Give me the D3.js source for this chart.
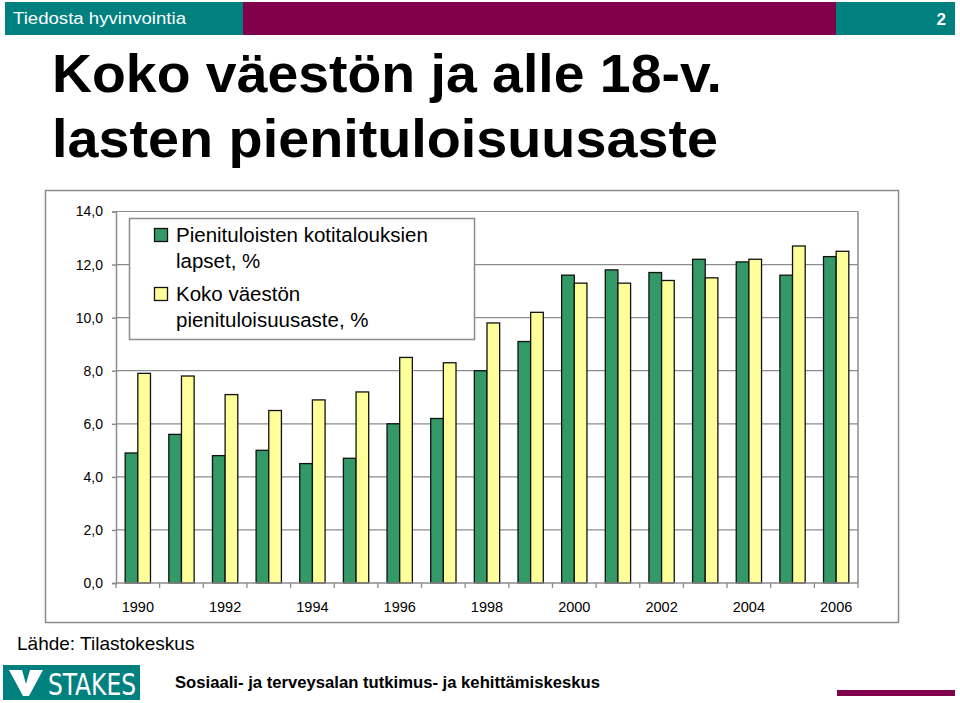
<!DOCTYPE html>
<html>
<head>
<meta charset="utf-8">
<script src="https://cdn.jsdelivr.net/npm/d3@7"></script>
<style>
  body { margin: 0; background: #fff; }
  svg { display: block; font-family: "Liberation Sans", Arial, sans-serif; }
</style>
</head>
<body>
<svg width="960" height="703"></svg>
<script>
const width = 960;
const height = 703;

// data
const years = [1990, 1991, 1992, 1993, 1994, 1995, 1996, 1997, 1998, 1999,
               2000, 2001, 2002, 2003, 2004, 2005, 2006];
const lapset = [4.9, 5.6, 4.8, 5.0, 4.5, 4.7, 6.0, 6.2, 8.0, 9.1,
                11.6, 11.8, 11.7, 12.2, 12.1, 11.6, 12.3];
const koko = [7.9, 7.8, 7.1, 6.5, 6.9, 7.2, 8.5, 8.3, 9.8, 10.2,
              11.3, 11.3, 11.4, 11.5, 12.2, 12.7, 12.5];
const seriesNames = ['Pienituloisten kotitalouksien|lapset, %', 'Koko väestön|pienituloisuusaste, %'];
const seriesColors = ['#339966', '#ffff99'];
const yTicks = [0, 2, 4, 6, 8, 10, 12, 14];
const xLabels = [1990, 1992, 1994, 1996, 1998, 2000, 2002, 2004, 2006];

const teal = '#00807f';
const maroon = '#80004a';

const svg = d3.select('svg');

// header bar
svg.append('rect').attr('x', 5).attr('y', 2).attr('width', 238).attr('height', 33).attr('fill', teal);
svg.append('rect').attr('x', 243).attr('y', 2).attr('width', 593).attr('height', 33).attr('fill', maroon);
svg.append('rect').attr('x', 836).attr('y', 2).attr('width', 119).attr('height', 33).attr('fill', teal);
svg.append('text').text('Tiedosta hyvinvointia')
    .attr('x', 13).attr('y', 24).attr('fill', '#fff')
    .attr('font-size', 16).attr('textLength', 173).attr('lengthAdjust', 'spacingAndGlyphs');
svg.append('text').text('2')
    .attr('x', 946).attr('y', 25).attr('fill', '#fff').attr('text-anchor', 'end')
    .attr('font-size', 17).attr('font-weight', 'bold');

// title
svg.append('text').text('Koko väestön ja alle 18-v.')
    .attr('x', 52).attr('y', 92).attr('font-size', 54).attr('font-weight', 'bold')
    .attr('textLength', 670).attr('lengthAdjust', 'spacingAndGlyphs');
svg.append('text').text('lasten pienituloisuusaste')
    .attr('x', 52).attr('y', 157).attr('font-size', 54).attr('font-weight', 'bold')
    .attr('textLength', 666).attr('lengthAdjust', 'spacingAndGlyphs');

// chart frame
svg.append('rect').attr('x', 45.5).attr('y', 190.5).attr('width', 853).attr('height', 432)
    .attr('fill', '#fff').attr('stroke', '#8c8c8c').attr('stroke-width', 1.5);

const plot = { left: 116, right: 858, top: 211.5, bottom: 583 };

const xScale = d3.scaleBand()
    .domain(years)
    .range([plot.left, plot.right])
    .paddingInner(0.42)
    .paddingOuter(0.21);

const xInner = d3.scaleBand()
    .domain([0, 1])
    .range([0, xScale.bandwidth()]);

const yScale = d3.scaleLinear()
    .domain([0, 14])
    .range([plot.bottom, plot.top]);

const g = svg.append('g');

// gridlines
g.selectAll('.grid').data(yTicks.filter(d => d > 0)).enter().append('line')
    .attr('x1', plot.left).attr('x2', plot.right)
    .attr('y1', d => yScale(d)).attr('y2', d => yScale(d))
    .attr('stroke', '#8c8c8c').attr('stroke-width', 1.2);

// right border of plot area
g.append('line').attr('x1', plot.right).attr('x2', plot.right)
    .attr('y1', plot.top).attr('y2', plot.bottom)
    .attr('stroke', '#8c8c8c').attr('stroke-width', 1.5);

// bars
const data = years.map((y, i) => ({ year: y, values: [lapset[i], koko[i]] }));
const groups = g.selectAll('.yr').data(data).enter().append('g')
    .attr('transform', d => `translate(${xScale(d.year)},0)`);
groups.selectAll('rect').data(d => d.values).enter().append('rect')
    .attr('x', (d, i) => xInner(i))
    .attr('y', d => yScale(d))
    .attr('width', xInner.bandwidth())
    .attr('height', d => yScale(0) - yScale(d))
    .attr('fill', (d, i) => seriesColors[i])
    .attr('stroke', '#111').attr('stroke-width', 1.3);

// y axis
const yAxis = d3.axisLeft(yScale)
    .tickValues(yTicks)
    .tickSize(4)
    .tickPadding(9)
    .tickFormat(d => d3.format('.1f')(d).replace('.', ','));
const yAxisG = g.append('g').attr('transform', `translate(${plot.left},0)`).call(yAxis);
yAxisG.selectAll('line, path').attr('stroke', '#8c8c8c').attr('stroke-width', 1.5);
yAxisG.selectAll('text').attr('font-size', 14).attr('fill', '#000')
    .attr('font-family', '"Liberation Sans", Arial, sans-serif');

// x axis: ticks on category boundaries, every other year labelled
const step = xScale.step();
const boundaries = d3.range(years.length + 1).map(i => plot.left + i * step);
g.append('line').attr('x1', plot.left).attr('x2', plot.right)
    .attr('y1', plot.bottom).attr('y2', plot.bottom)
    .attr('stroke', '#8c8c8c').attr('stroke-width', 1.5);
g.selectAll('.xtick').data(boundaries).enter().append('line')
    .attr('x1', d => d).attr('x2', d => d)
    .attr('y1', plot.bottom).attr('y2', plot.bottom + 5)
    .attr('stroke', '#8c8c8c').attr('stroke-width', 1.3);
g.selectAll('.xlab').data(xLabels).enter().append('text')
    .text(d => d)
    .attr('x', d => xScale(d) + xScale.bandwidth() / 2)
    .attr('y', 612)
    .attr('text-anchor', 'middle')
    .attr('font-size', 14.5);

// legend
const legend = svg.append('g');
legend.append('rect').attr('x', 129.5).attr('y', 218.5).attr('width', 345).attr('height', 121)
    .attr('fill', '#fff').attr('stroke', '#8c8c8c').attr('stroke-width', 1.5);
const legendY = [228, 287];
seriesNames.forEach((name, i) => {
    legend.append('rect')
        .attr('x', 154.5).attr('y', legendY[i] + 0.5).attr('width', 13).attr('height', 13)
        .attr('fill', seriesColors[i]).attr('stroke', '#111').attr('stroke-width', 1.3);
    name.split('|').forEach((line, j) => {
        legend.append('text').text(line)
            .attr('x', 176).attr('y', legendY[i] + 14 + j * 26)
            .attr('font-size', 20.5);
    });
});

// source
svg.append('text').text('Lähde: Tilastokeskus')
    .attr('x', 17).attr('y', 650).attr('font-size', 19);

// footer
svg.append('rect').attr('x', 3).attr('y', 665).attr('width', 137).attr('height', 35).attr('fill', teal);
svg.append('path')
    .attr('d', 'M9,670 L22,670 L26,684 L30,670 L43,670 L29,696 L23,696 Z')
    .attr('fill', '#fff');
svg.append('text').text('STAKES')
    .attr('x', 48).attr('y', 695).attr('fill', '#fff')
    .attr('font-size', 30).attr('font-family', '"DejaVu Sans Condensed", "Liberation Sans Narrow", sans-serif')
    .attr('textLength', 88).attr('lengthAdjust', 'spacingAndGlyphs');
svg.append('text').text('Sosiaali- ja terveysalan tutkimus- ja kehittämiskeskus')
    .attr('x', 175).attr('y', 688).attr('font-size', 17).attr('font-weight', 'bold')
    .attr('textLength', 425).attr('lengthAdjust', 'spacingAndGlyphs');
svg.append('rect').attr('x', 837).attr('y', 690).attr('width', 118).attr('height', 6).attr('fill', maroon);
</script>
</body>
</html>
